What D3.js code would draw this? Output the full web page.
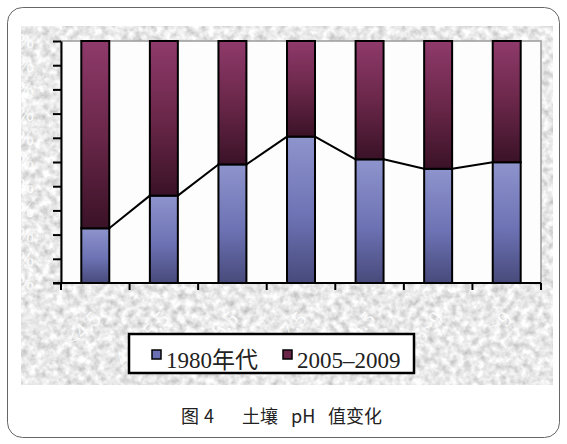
<!DOCTYPE html>
<html>
<head>
<meta charset="utf-8">
<script src="https://cdn.jsdelivr.net/npm/d3@7/dist/d3.min.js"></script>
<style>
  html, body { margin: 0; padding: 0; background: #ffffff; }
  svg { display: block; }
</style>
</head>
<body>
<svg id="chart" width="567" height="444"></svg>
<script>
// pH classes and the share of samples in each period (percent)
const categories = ["<4.5", "4.5~5.5", "5.5~6.5", "6.5~7.5", "7.5~8.5", "8.5~9", ">9"];
const series1980 = [22.6, 36.1, 49.0, 60.5, 51.1, 47.2, 49.9];
const series2005 = [77.4, 63.9, 51.0, 39.5, 48.9, 52.8, 50.1];
const seriesNames = ["1980年代", "2005–2009"];
const yTickValues = [0, 0.1, 0.2, 0.3, 0.4, 0.5, 0.6, 0.7, 0.8, 0.9, 1];

const svg = d3.select("#chart");
const defs = svg.append("defs");

// mottled grey backdrop
const tex = defs.append("filter").attr("id", "tex")
  .attr("x", 0).attr("y", 0).attr("width", "100%").attr("height", "100%");
tex.append("feTurbulence").attr("type", "fractalNoise")
  .attr("baseFrequency", "0.14").attr("numOctaves", 3).attr("seed", 7);
tex.append("feColorMatrix").attr("type", "matrix")
  .attr("values", "0.75 0 0 0 0.44  0.75 0 0 0 0.44  0.75 0 0 0 0.44  0 0 0 0 1");

function vGrad(id, stops) {
  const g = defs.append("linearGradient").attr("id", id)
    .attr("x1", 0).attr("y1", 0).attr("x2", 0).attr("y2", 1);
  stops.forEach(([o, c]) => g.append("stop").attr("offset", o).attr("stop-color", c));
}
vGrad("gBlue", [[0, "#8e94cc"], [0.55, "#6d72b4"], [1, "#474a7a"]]);
vGrad("gRed", [[0, "#8f3a6b"], [0.5, "#6a2749"], [1, "#3a1227"]]);

const clip = defs.append("clipPath").attr("id", "panelClip");
clip.append("rect").attr("x", 21).attr("y", 26).attr("width", 532).attr("height", 359);

// outer frame
svg.append("rect")
  .attr("x", 7.5).attr("y", 7.5).attr("width", 552).attr("height", 430)
  .attr("rx", 15).attr("fill", "#fff").attr("stroke", "#666").attr("stroke-width", 1);

// chart panel
svg.append("rect")
  .attr("x", 21).attr("y", 26).attr("width", 532).attr("height", 359)
  .attr("filter", "url(#tex)");

const plot = { left: 61, right: 541, top: 41, bottom: 283 };

const x = d3.scaleBand().domain(categories)
  .range([plot.left, plot.right]).paddingInner(0.592).paddingOuter(0.296);
const y = d3.scaleLinear().domain([0, 1]).range([plot.bottom, plot.top]);

svg.append("rect")
  .attr("x", plot.left).attr("y", plot.top)
  .attr("width", plot.right - plot.left).attr("height", plot.bottom - plot.top)
  .attr("fill", "#fdfdfd").attr("stroke", "#9a9a9a").attr("stroke-width", 1.5);

// 100% stacked data
const rows = categories.map((c, i) => ({ cat: c, a: series1980[i], b: series2005[i] }));
const stack = d3.stack().keys(["a", "b"]).offset(d3.stackOffsetExpand);
const layers = stack(rows);
const fills = ["url(#gBlue)", "url(#gRed)"];

const root = svg.append("g").attr("clip-path", "url(#panelClip)");

// pale tick labels on the textured backdrop
root.append("g").selectAll("text").data(yTickValues).join("text")
  .attr("x", 34).attr("y", d => y(d) + 7)
  .attr("text-anchor", "end")
  .attr("font-family", "Liberation Serif, serif").attr("font-size", 20)
  .attr("fill", "#ffffff").attr("fill-opacity", 0.9)
  .text(d3.format(".0%"));

root.append("g").selectAll("text").data(categories).join("text")
  .attr("transform", d => `translate(${x(d) + x.bandwidth() / 2 + 7},${320}) rotate(-45)`)
  .attr("text-anchor", "end")
  .attr("font-family", "Liberation Serif, serif").attr("font-size", 22)
  .attr("fill", "#ffffff").attr("fill-opacity", 0.9)
  .text(d => d);

// bars
svg.append("g").selectAll("g").data(layers).join("g")
  .attr("fill", (d, i) => fills[i])
  .selectAll("rect").data(d => d).join("rect")
  .attr("x", d => x(d.data.cat))
  .attr("y", d => y(d[1]))
  .attr("width", x.bandwidth())
  .attr("height", d => y(d[0]) - y(d[1]))
  .attr("stroke", "#000").attr("stroke-width", 2);

// series lines joining the boundaries of adjacent bars
const seg = [];
layers[0].forEach((d, i) => {
  if (i < layers[0].length - 1) {
    const n = layers[0][i + 1];
    seg.push([[x(d.data.cat) + x.bandwidth(), y(d[1])], [x(n.data.cat), y(n[1])]]);
  }
});
svg.append("g").selectAll("path").data(seg).join("path")
  .attr("d", d3.line())
  .attr("fill", "none").attr("stroke", "#000").attr("stroke-width", 2);

// y axis
const yAxis = d3.axisLeft(y).tickValues(yTickValues).tickSize(8).tickSizeOuter(0).tickFormat("");
svg.append("g").attr("transform", `translate(${plot.left},0)`).call(yAxis)
  .call(g => g.selectAll("line, path").attr("stroke", "#000").attr("stroke-width", 2));

// x axis with ticks on category boundaries
const half = (x.step() - x.bandwidth()) / 2;
const bounds = categories.map(c => x(c) - half).concat([plot.right]);
const xa = svg.append("g");
xa.append("line")
  .attr("x1", plot.left - 8).attr("x2", plot.right)
  .attr("y1", plot.bottom).attr("y2", plot.bottom)
  .attr("stroke", "#000").attr("stroke-width", 2);
xa.selectAll(".tk").data(bounds).join("line").attr("class", "tk")
  .attr("x1", d => d).attr("x2", d => d)
  .attr("y1", plot.bottom).attr("y2", plot.bottom + 7)
  .attr("stroke", "#000").attr("stroke-width", 2);

// legend
const lg = svg.append("g");
lg.append("rect").attr("x", 129).attr("y", 334).attr("width", 285).attr("height", 39)
  .attr("fill", "#fff").attr("stroke", "#000").attr("stroke-width", 2.5);
const legendItems = [
  { name: seriesNames[0], fill: "#6b70b4", sx: 152, tx: 166 },
  { name: seriesNames[1], fill: "#6a2448", sx: 283, tx: 297 }
];
legendItems.forEach(it => {
  lg.append("rect").attr("x", it.sx).attr("y", 350).attr("width", 9).attr("height", 9)
    .attr("fill", it.fill).attr("stroke", "#000").attr("stroke-width", 1.5);
  lg.append("text").attr("x", it.tx).attr("y", 368)
    .attr("font-family", "Liberation Serif, 'Noto Sans CJK SC', serif").attr("font-size", 23)
    .attr("fill", "#222").text(it.name);
});

// caption
const cap = svg.append("text").attr("y", 423)
  .attr("font-family", "'Noto Sans CJK SC', sans-serif").attr("font-size", 18)
  .attr("fill", "#222");
cap.append("tspan").attr("x", 181).text("图");
cap.append("tspan").attr("x", 204).text("4");
cap.append("tspan").attr("x", 242).text("土壤");
cap.append("tspan").attr("x", 291).text("pH");
cap.append("tspan").attr("x", 328).text("值变化");
</script>
</body>
</html>
